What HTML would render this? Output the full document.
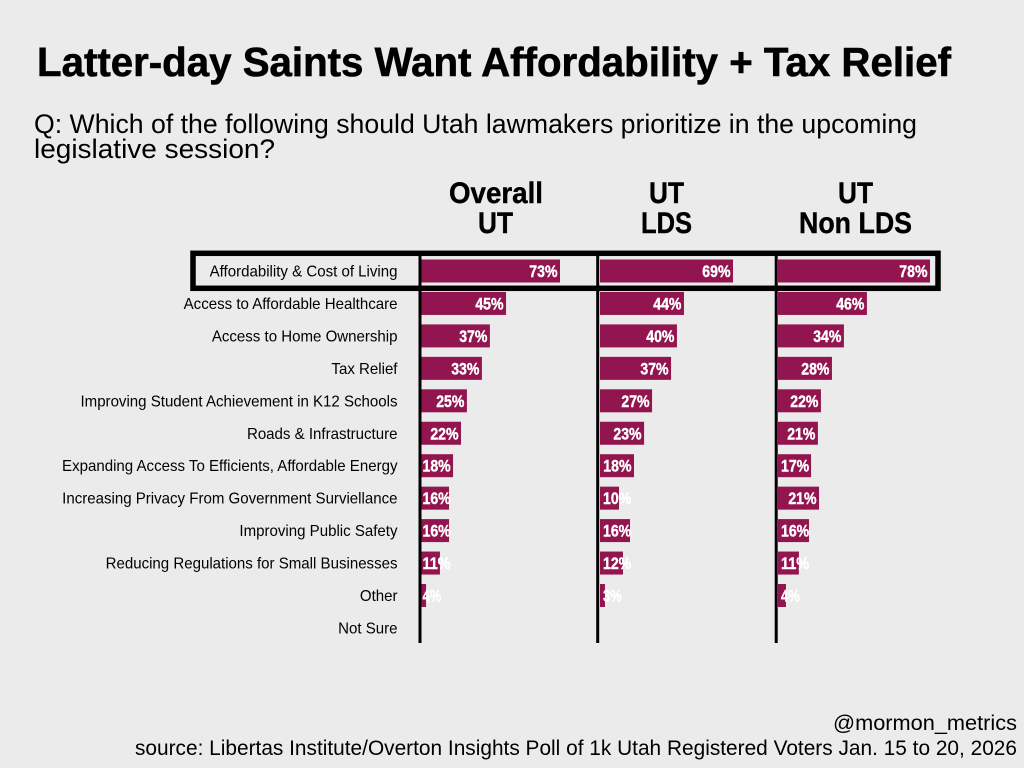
<!DOCTYPE html>
<html lang="en">
<head>
<meta charset="utf-8">
<title>Latter-day Saints Want Affordability + Tax Relief</title>
<style>
  html, body { margin: 0; padding: 0; background: #ebebeb; }
  svg { display: block; font-family: "Liberation Sans", sans-serif; }
</style>
</head>
<body>
<svg id="chart" xmlns="http://www.w3.org/2000/svg" width="1024" height="768" viewBox="0 0 1024 768">
  <rect x="0" y="0" width="1024" height="768" fill="#ebebeb"/>
  <text x="37" y="76" font-size="41" font-weight="700" fill="#000" stroke="#000" stroke-width="0.6" textLength="914" lengthAdjust="spacingAndGlyphs">Latter-day Saints Want Affordability + Tax Relief</text>
  <text x="34" y="133" font-size="27" fill="#000" textLength="883" lengthAdjust="spacingAndGlyphs">Q: Which of the following should Utah lawmakers prioritize in the upcoming</text>
  <text x="34" y="158" font-size="27" fill="#000" textLength="241" lengthAdjust="spacingAndGlyphs">legislative session?</text>

  <text x="449" y="203" font-size="30" font-weight="700" stroke="#000" stroke-width="0.4" textLength="94" lengthAdjust="spacingAndGlyphs">Overall</text>
  <text x="478" y="233" font-size="30" font-weight="700" stroke="#000" stroke-width="0.4" textLength="35" lengthAdjust="spacingAndGlyphs">UT</text>
  <text x="649" y="203" font-size="30" font-weight="700" stroke="#000" stroke-width="0.4" textLength="35" lengthAdjust="spacingAndGlyphs">UT</text>
  <text x="641" y="233" font-size="30" font-weight="700" stroke="#000" stroke-width="0.4" textLength="51" lengthAdjust="spacingAndGlyphs">LDS</text>
  <text x="838" y="203" font-size="30" font-weight="700" stroke="#000" stroke-width="0.4" textLength="35" lengthAdjust="spacingAndGlyphs">UT</text>
  <text x="799" y="233" font-size="30" font-weight="700" stroke="#000" stroke-width="0.4" textLength="113" lengthAdjust="spacingAndGlyphs">Non LDS</text>

  <g id="rows"></g>
  <g id="bars"></g>
  <g id="axes"></g>
  <g id="values"></g>

  <rect x="193" y="253.3" width="745" height="35" fill="none" stroke="#000" stroke-width="5.5"/>

  <text x="833" y="730" font-size="21" fill="#000" textLength="184" lengthAdjust="spacingAndGlyphs">@mormon_metrics</text>
  <text x="135" y="755" font-size="21" fill="#000" textLength="882" lengthAdjust="spacingAndGlyphs">source: Libertas Institute/Overton Insights Poll of 1k Utah Registered Voters Jan. 15 to 20, 2026</text>
</svg>
<script>
const categories = [
  "Affordability & Cost of Living",
  "Access to Affordable Healthcare",
  "Access to Home Ownership",
  "Tax Relief",
  "Improving Student Achievement in K12 Schools",
  "Roads & Infrastructure",
  "Expanding Access To Efficients, Affordable Energy",
  "Increasing Privacy From Government Surviellance",
  "Improving Public Safety",
  "Reducing Regulations for Small Businesses",
  "Other",
  "Not Sure"
];
const panelNames = ["overall-ut", "ut-lds", "ut-non-lds"];
const overallValues = [72.9, 44.5, 36, 31.8, 23.9, 20.8, 16.6, 14.5, 14.5, 9.7, 2.4, 0];
const ldsValues = [70, 44.2, 40.5, 37.4, 27.4, 23.2, 17.9, 10, 15.8, 12.1, 2.6, 0];
const nonLdsValues = [80, 46.8, 34.7, 28.4, 22.6, 21, 17.4, 21.6, 16.3, 11, 4.2, 0];
const overallLabels = ["73%", "45%", "37%", "33%", "25%", "22%", "18%", "16%", "16%", "11%", "4%", ""];
const ldsLabels = ["69%", "44%", "40%", "37%", "27%", "23%", "18%", "10%", "16%", "12%", "3%", ""];
const nonLdsLabels = ["78%", "46%", "34%", "28%", "22%", "21%", "17%", "21%", "16%", "11%", "4%", ""];

const SVG_NS = "http://www.w3.org/2000/svg";
const panelValues = [overallValues, ldsValues, nonLdsValues];
const panelLabels = [overallLabels, ldsLabels, nonLdsLabels];
const panelOrigins = [421.5, 600, 778];
const panelAxisX = [420, 597.7, 776.2];
const panelPads = [1, 3, 3];

function yScale(i) { return 271 + 32.45 * i; }
function xScale(panel, v) { return panelOrigins[panel] + v * 1.9; }
function make(tag, attrs, parent) {
  const el = document.createElementNS(SVG_NS, tag);
  for (const k in attrs) el.setAttribute(k, attrs[k]);
  parent.appendChild(el);
  return el;
}

const rowsG = document.getElementById("rows");
const barsG = document.getElementById("bars");
const axesG = document.getElementById("axes");
const valuesG = document.getElementById("values");

categories.forEach(function (name, i) {
  const t = make("text", {
    transform: "translate(397.5 " + (yScale(i) + 5.5) + ") scale(0.972 1)",
    "text-anchor": "end",
    "font-size": 15.5,
    fill: "#000"
  }, rowsG);
  
  
  t.textContent = name;
});

panelNames.forEach(function (panelName, p) {
  panelValues[p].forEach(function (v, i) {
    const x0 = xScale(p, 0);
    const x1 = xScale(p, v);
    const bar = make("rect", {
      x: x0,
      y: yScale(i) - 11.5,
      width: x1 - x0,
      height: 23,
      fill: "#93154f"
    }, barsG);
    
    

    const label = panelLabels[p][i];
    if (label) {
      const w = 9.4 * label.length;
      const right = Math.max(x1 - 2.5, x0 + panelPads[p] + w);
      const txt = make("text", {
        x: right - w,
        y: yScale(i) + 6,
        "font-size": 16.5,
        "font-weight": 700,
        fill: "#fff",
        stroke: "#fff",
        "stroke-width": 0.4,
        textLength: w,
        lengthAdjust: "spacingAndGlyphs"
      }, valuesG);
      
      
      txt.textContent = label;
    }
  });

  const line = make("line", {
    x1: panelAxisX[p],
    x2: panelAxisX[p],
    y1: 252,
    y2: 643,
    stroke: "#000",
    "stroke-width": 3
  }, axesG);
  
  
});
</script>
</body>
</html>
